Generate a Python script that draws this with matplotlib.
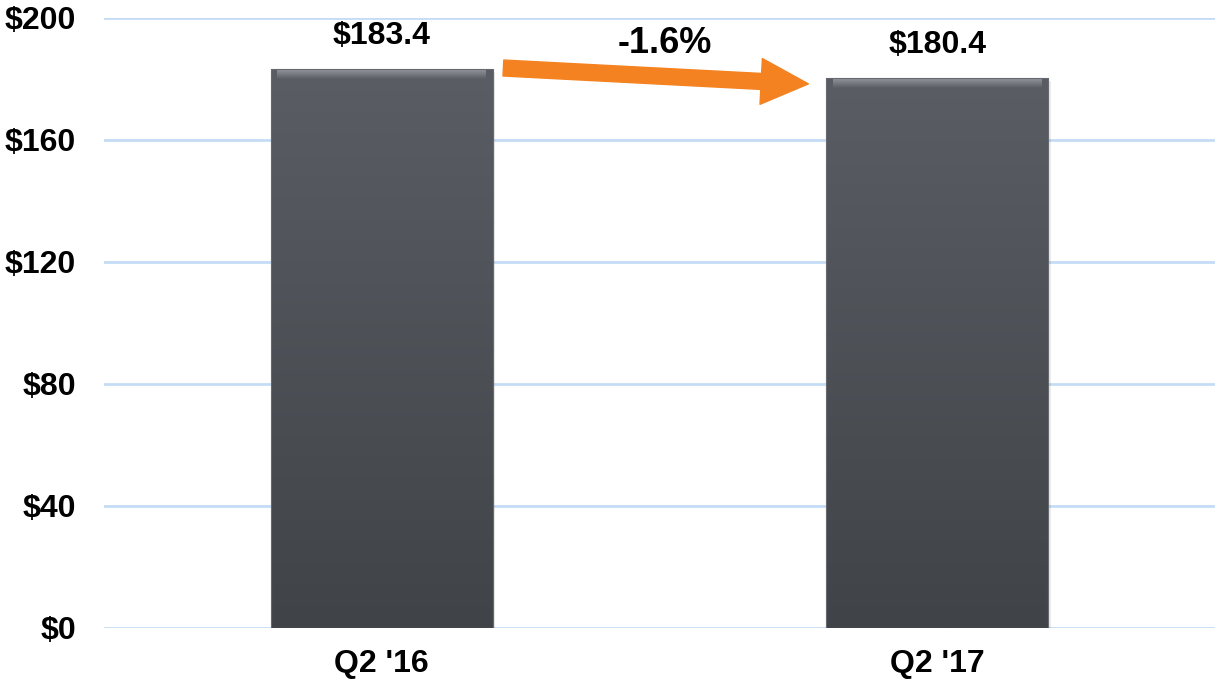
import numpy as np
import matplotlib
matplotlib.use("Agg")
import matplotlib.pyplot as plt
from matplotlib.patches import FancyArrowPatch

categories = ["Q2 '16", "Q2 '17"]
values = [183.4, 180.4]
change_label = "-1.6%"
y_ticks = [0, 40, 80, 120, 160, 200]

plt.rcParams['font.family'] = ['Liberation Sans', 'DejaVu Sans']

fig = plt.figure(figsize=(12.15, 6.84), dpi=100)
ax = fig.add_axes([104 / 1215, 56 / 684, 1111 / 1215, 610 / 684])

x = np.arange(len(categories))
bar_w = 0.40

# soft shadow behind bars
ax.bar(x + 0.004, values, bar_w, bottom=-1.0, color='#000000', alpha=0.08, zorder=2)

bars = ax.bar(x, values, bar_w, color='none', edgecolor='#66696e', linewidth=0.8, zorder=3)

# vertical gradient fill clipped to each bar
grad = np.linspace(0, 1, 256).reshape(-1, 1)
cmap = matplotlib.colors.LinearSegmentedColormap.from_list('bar', ['#404347', '#5a5d64'])
cm2 = matplotlib.colors.LinearSegmentedColormap.from_list('bev', ['#5a5d64', '#9a9da2'])
for b, v in zip(bars, values):
    x0 = b.get_x()
    im = ax.imshow(grad, cmap=cmap, origin='lower', aspect='auto',
                   extent=[x0, x0 + bar_w, 0, v], zorder=2.5)
    im.set_clip_path(b)
    # bevel at the top
    bev = np.linspace(0, 1, 64).reshape(-1, 1)
    im2 = ax.imshow(bev, cmap=cm2, origin='lower', aspect='auto',
                    extent=[x0 + 0.012, x0 + bar_w - 0.012, v - 3.4, v], zorder=2.6)
    im2.set_clip_path(b)

for xi, v in zip(x, values):
    ax.annotate(f"${v:.1f}", (xi, v), xytext=(0, 13), textcoords='offset points',
                ha='center', va='bottom', fontsize=23, fontweight='bold', zorder=5)

arrow = FancyArrowPatch((0.219, values[0] + 0.2), (0.768, values[1] - 2.0),
                        arrowstyle='simple,head_length=34,head_width=33,tail_width=11.5',
                        mutation_scale=1, color='#f58220', shrinkA=0, shrinkB=0, zorder=4)
ax.add_patch(arrow)
ax.text(0.51, 191.5, change_label, ha='center', va='center', fontsize=26, fontweight='bold', zorder=5)

ax.set_xlim(-0.5, 1.5)
ax.set_ylim(0, 200)
ax.set_yticks(y_ticks)
ax.set_yticklabels([f"${t}" for t in y_ticks], fontsize=23, fontweight='bold')
ax.set_xticks(x)
ax.set_xticklabels(categories, fontsize=23, fontweight='bold')
ax.tick_params(axis='y', length=0, pad=20)
ax.tick_params(axis='x', length=0, pad=15)
ax.grid(axis='y', color='#c5dcf5', linewidth=2, zorder=0)
ax.set_axisbelow(True)
for s in ax.spines.values():
    s.set_visible(False)

fig.savefig("out.png", dpi=100)
